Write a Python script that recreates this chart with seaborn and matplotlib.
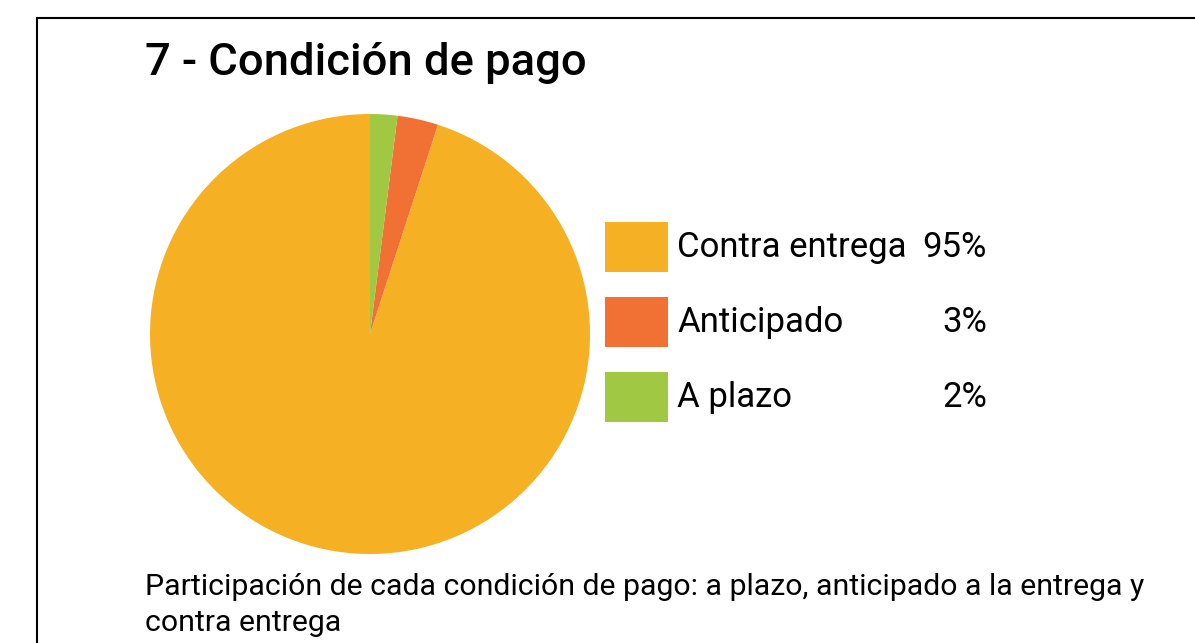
import matplotlib
matplotlib.use("Agg")
import matplotlib.pyplot as plt
from matplotlib.lines import Line2D
from matplotlib.patches import Rectangle
import seaborn as sns

sns.set_theme(style="white")
plt.rcParams['font.family'] = ['Roboto', 'DejaVu Sans']

# data
categories = ["Contra entrega", "Anticipado", "A plazo"]
values = [95, 3, 2]
colors = ["#F6B024", "#F07133", "#A1C843"]

title = "7 - Condición de pago"
caption_lines = ["Participación de cada condición de pago: a plazo, anticipado a la entrega y",
                 "contra entrega"]

W, H = 1195, 643
fig = plt.figure(figsize=(W / 100, H / 100), dpi=100)
fig.patch.set_facecolor("white")

# frame lines (top and left)
fig.add_artist(Line2D([37 / W, 1], [1 - 18 / H, 1 - 18 / H], color="black", lw=1.5))
fig.add_artist(Line2D([37 / W, 37 / W], [1 - 18 / H, 0], color="black", lw=1.5))

# pie
ax = fig.add_axes([150 / W, 1 - 554 / H, 440 / W, 440 / H])
ax.pie(values, colors=colors, startangle=90, counterclock=True,
       wedgeprops=dict(linewidth=0))
ax.set_xlim(-1, 1)
ax.set_ylim(-1, 1)
ax.set_aspect("equal")
ax.axis("off")

# title
fig.text(145 / W, 1 - 75.5 / H, title, fontsize=32.7, fontweight="medium",
         ha="left", va="baseline", color="black")

# legend
for i, (cat, val, col) in enumerate(zip(categories, values, colors)):
    top = 222 + i * 75
    fig.add_artist(Rectangle((605 / W, 1 - (top + 50) / H), 63 / W, 50 / H,
                             transform=fig.transFigure, facecolor=col,
                             edgecolor="none"))
    yb = 1 - (top + 35) / H
    fig.text(677 / W, yb, cat, fontsize=25, ha="left", va="baseline", color="black")
    fig.text(987 / W, yb, f"{val}%", fontsize=25, ha="right", va="baseline", color="black")

# caption
for j, line in enumerate(caption_lines):
    fig.text(145 / W, 1 - (595 + 36 * j) / H, line, fontsize=21.8, ha="left",
             va="baseline", color="black")

fig.savefig("out.png", dpi=100)
